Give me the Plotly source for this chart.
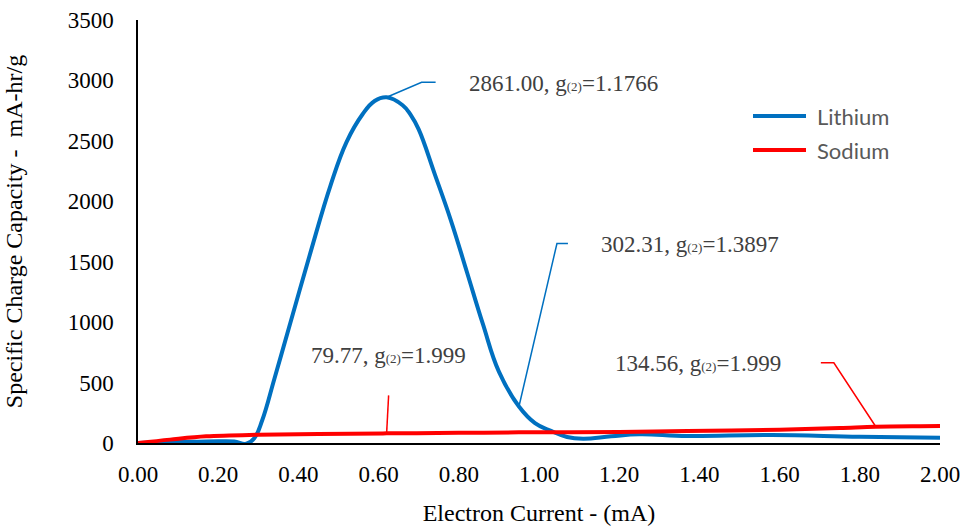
import plotly.graph_objects as go

# ---- data ----
li_x = [0.00, 0.05, 0.10, 0.15, 0.20, 0.24, 0.27, 0.29, 0.31, 0.34, 0.38, 0.43, 0.48, 0.52,
        0.56, 0.59, 0.62, 0.66, 0.68, 0.70, 0.74, 0.78, 0.82, 0.86, 0.90, 0.95, 0.99, 1.03,
        1.07, 1.11, 1.18, 1.25, 1.37, 1.58, 1.80, 2.00]
li_y = [0, 4, 8, 11, 14, 12, -6, 40, 190, 530, 995, 1575, 2130, 2490,
        2720, 2830, 2861.00, 2795, 2715, 2595, 2225, 1845, 1417, 985, 590, 302.31, 165, 100,
        50, 36, 55, 72, 58, 66, 52, 44]

na_x = [0.00, 0.08, 0.17, 0.30, 0.45, 0.62, 0.80, 0.95, 1.20, 1.37, 1.60, 1.75, 1.84, 1.95, 2.00]
na_y = [0, 28, 55, 68, 74, 79.77, 84, 88, 92, 99, 110, 124, 134.56, 139, 140]

x_ticks = [0.0, 0.2, 0.4, 0.6, 0.8, 1.0, 1.2, 1.4, 1.6, 1.8, 2.0]
y_ticks = [0, 500, 1000, 1500, 2000, 2500, 3000, 3500]

series_names = ["Lithium", "Sodium"]

# data labels: index into series, g value
li_label_idx = [16, 25]
li_label_g = ["1.1766", "1.3897"]
na_label_idx = [5, 12]
na_label_g = ["1.999", "1.999"]

BLUE = "#0070C0"
RED = "#FF0000"
SERIF = "Liberation Serif, Times New Roman, serif"

fig = go.Figure()
fig.add_trace(go.Scatter(x=li_x, y=li_y, name=series_names[0], mode="lines", showlegend=False,
                         line=dict(color=BLUE, width=4, shape="spline", smoothing=1.2)))
fig.add_trace(go.Scatter(x=na_x, y=na_y, name=series_names[1], mode="lines", showlegend=False,
                         line=dict(color=RED, width=4, shape="spline", smoothing=1.0)))

def label_text(v, g):
    return f"{v:.2f}, g<span style='font-size:13px'>(2)</span>={g}"

# label geometry: leader path (pixels relative to point, up positive), text shift & anchor
label_specs = [
    (li_x, li_y, li_label_idx[0], li_label_g[0], BLUE, "M0,0 L35,15 L49,15", 80, 14, "left"),
    (li_x, li_y, li_label_idx[1], li_label_g[1], BLUE, "M0,0 L38,163 L49,163", 80, 162, "left"),
    (na_x, na_y, na_label_idx[0], na_label_g[0], RED, "M0,0 L2,38", 2, 78, "center"),
    (na_x, na_y, na_label_idx[1], na_label_g[1], RED, "M0,0 L-42,64 L-55,64", -93, 63, "right"),
]
for xs, ys, i, g, col, path, xs_, ys_, anc in label_specs:
    fig.add_shape(type="path", xref="x", yref="y", xsizemode="pixel", ysizemode="pixel",
                  xanchor=xs[i], yanchor=ys[i], path=path,
                  line=dict(color=col, width=1.5), layer="below")
    fig.add_annotation(x=xs[i], y=ys[i], xref="x", yref="y", text=label_text(ys[i], g),
                       showarrow=False, xanchor=anc, yanchor="middle",
                       xshift=xs_, yshift=ys_,
                       font=dict(family=SERIF, size=23, color="#404040"))

# manual legend (paper coordinates)
PW, PH = 802, 423
for k, (name, col) in enumerate(zip(series_names, [BLUE, RED])):
    ypx = 443 - (116 + 34 * k)
    yp = ypx / PH
    fig.add_shape(type="line", xref="paper", yref="paper",
                  x0=(753 - 138) / PW, x1=(806 - 138) / PW, y0=yp, y1=yp,
                  line=dict(color=col, width=4))
    fig.add_annotation(xref="paper", yref="paper", x=(815 - 138) / PW, y=yp,
                       text=name, showarrow=False, xanchor="left", yanchor="middle",
                       font=dict(family="Lato, sans-serif", size=22, color="#595959"))

fig.update_layout(
    width=962, height=526,
    margin=dict(l=138, r=22, t=20, b=83),
    plot_bgcolor="white", paper_bgcolor="white",
    showlegend=False,
    xaxis=dict(range=[0, 2], tickvals=x_ticks, ticktext=[f"{v:.2f}" for v in x_ticks],
               showgrid=False, zeroline=False, showline=True, linecolor="black", linewidth=1.5,
               ticks="", ticklabelstandoff=10, automargin=False,
               tickfont=dict(family=SERIF, size=23, color="black"),
               title=dict(text="Electron Current - (mA)", standoff=20,
                          font=dict(family=SERIF, size=24, color="black"))),
    yaxis=dict(range=[0, 3500], tickvals=y_ticks, ticktext=[str(v) for v in y_ticks],
               showgrid=False, zeroline=False, showline=True, linecolor="black", linewidth=1.5,
               ticks="", ticklabelstandoff=18, automargin=False,
               tickfont=dict(family=SERIF, size=23, color="black"),
               title=dict(text="Specific Charge Capacity -\u00a0 mA-hr/g", standoff=38,
                          font=dict(family=SERIF, size=24, color="black"))),
)

fig.write_html("out.html", config={"displayModeBar": False},
               post_script="document.body.style.margin='0';document.body.style.overflow='hidden';")
